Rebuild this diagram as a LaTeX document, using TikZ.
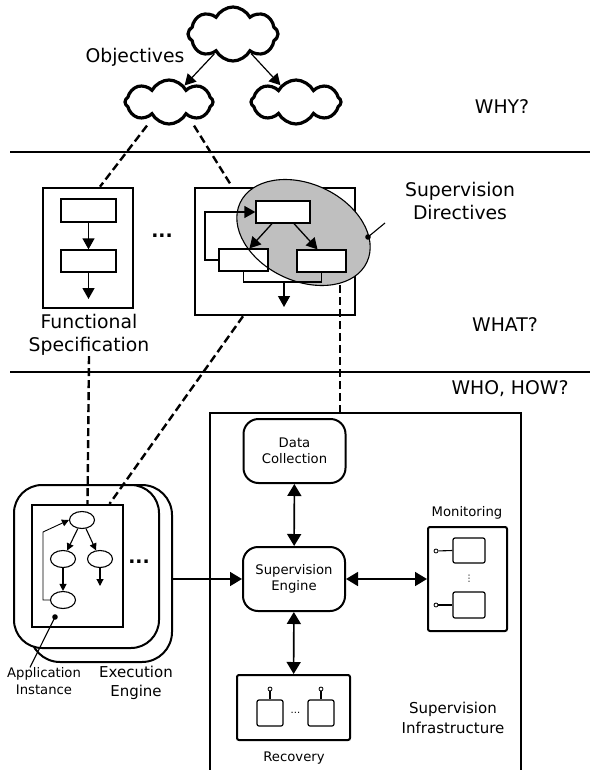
\documentclass[tikz,border=0pt]{standalone}
\usepackage{fontspec}
\setmainfont{DejaVu Sans}
\usetikzlibrary{arrows.meta,shapes.symbols,shapes.geometric}

\tikzset{
	bigtext/.style={font=\fontsize{18.8}{23.5}\selectfont, align=center, inner sep=0pt},
	midtext/.style={font=\fontsize{15}{19.5}\selectfont, align=center, inner sep=0pt},
	smalltext/.style={font=\fontsize{13.2}{16.5}\selectfont, align=center, inner sep=0pt},
	goal/.style={cloud, cloud puffs=8, cloud puff arc=125, aspect=1.7, draw, line width=3.2pt, fill=white, inner sep=0pt},
	frame/.style={draw, line width=2.6pt, inner sep=0pt},
	stepbox/.style={draw, line width=1.3pt, fill=white, inner sep=0pt},
	task/.style={ellipse, draw, line width=1.1pt, inner sep=0pt, minimum width=25pt, minimum height=17pt},
	module/.style={draw, line width=2pt, rounded corners=15pt, inner sep=0pt, minimum width=102pt, minimum height=64pt},
	pin/.style={circle, draw, line width=0.8pt, inner sep=0pt, minimum size=4pt},
	dashline/.style={line width=2.4pt, dash pattern=on 8pt off 4pt},
	bigtip/.style={line width=1.6pt, {Triangle[length=12pt,width=14pt]}-{Triangle[length=12pt,width=14pt]}},
	headtip/.style={line width=1.6pt, -{Triangle[length=12pt,width=14pt]}},
	midtip/.style={line width=1.3pt, -{Triangle[length=11pt,width=12pt]}},
	smalltip/.style={line width=1.1pt, -{Triangle[length=7pt,width=7pt]}}
}

\begin{document}
\begin{tikzpicture}[x=1pt, y=-1pt]
	\useasboundingbox (0,0) rectangle (590,770);
	% layers
	\draw[line width=2.6pt] (10,152) -- (590,152);
	\draw[line width=2.6pt] (10,372) -- (590,372);
	\node[bigtext] (why) at (502,107) {WHY?};
	\node[bigtext] (what) at (505,325) {WHAT?};
	\node[bigtext] (who) at (510,389) {WHO, HOW?};

	% objectives
	\node[goal, minimum width=90pt, minimum height=54pt] (oc) at (233,34) {};
	\node[goal, minimum width=88pt, minimum height=44pt] (lc) at (169,102) {};
	\node[goal, minimum width=90pt, minimum height=44pt] (rc) at (296,102) {};
	\node[bigtext] (objectives) at (135,57) {Objectives};
	\draw[midtip, line width=1.2pt] (oc) -- (lc);
	\draw[midtip, line width=1.2pt] (oc) -- (rc);

	% functional specification
	\node[frame, minimum width=90pt, minimum height=120pt] (spec) at (88,248) {};
	\node[stepbox, minimum width=55pt, minimum height=23pt] (f1) at (88.5,210.5) {};
	\node[stepbox, minimum width=55pt, minimum height=22pt] (f2) at (88.5,261) {};
	\coordinate (fend) at (88.5,299);
	\draw[midtip] (f1) -- (f2);
	\draw[midtip] (f2) -- (fend);
	\node[bigtext] (specname) at (89,335) {Functional\\Specification};
	\node[bigtext] (specdots) at (162,236) {\textbf{...}};

	% supervised plan
	\node[frame, minimum width=160pt, minimum height=127pt] (plan) at (275,251.5) {};
	\node[ellipse, fill=gray!50, minimum width=140pt, minimum height=97pt, rotate=-25] (directives) at (303.5,232.5) {};
	\node[stepbox, minimum width=54pt, minimum height=22pt] (p1) at (283,212) {};
	\node[stepbox, minimum width=49pt, minimum height=22pt] (p2) at (243.5,260) {};
	\node[stepbox, minimum width=49pt, minimum height=22pt] (p3) at (321.5,261) {};
	\node[ellipse, draw, line width=1.1pt, minimum width=140pt, minimum height=97pt, rotate=-25] (dirline) at (303.5,232.5) {};
	\draw[midtip] ([xshift=-11pt]p1.south) -- ([xshift=6pt]p2.north);
	\draw[midtip] ([xshift=11pt]p1.south) -- ([xshift=-4pt]p3.north);
	\draw[midtip] (p2.west) -- (205,260) |- (p1.west);
	\coordinate (merge) at (284,282);
	\coordinate (pend) at (284,307);
	\draw[line width=1.3pt] (p2.south) |- (merge) -| (p3.south);
	\draw[midtip] (merge) -- (pend);
	\coordinate (dirdot) at (368,237);
	\coordinate (dirend) at (385,223);
	\fill (dirdot) circle (2.8pt);
	\draw[line width=1.1pt] (dirdot) -- (dirend);
	\node[bigtext] (dirname) at (460,201) {Supervision\\Directives};

	% execution engine
	\node[draw, fill=white, line width=2pt, rounded corners=30pt, minimum width=142pt, minimum height=177pt] (back) at (101,573.5) {};
	\node[draw, fill=white, line width=2pt, rounded corners=28pt, minimum width=145pt, minimum height=163pt] (engine) at (86.5,566.5) {};
	\node[frame, line width=2.2pt, minimum width=91pt, minimum height=122pt] (app) at (77.5,566) {};
	\node[task] (e1) at (82,520) {};
	\node[task] (e2) at (63,559) {};
	\node[task] (e3) at (100,559) {};
	\node[task] (e4) at (63,600) {};
	\coordinate (e3end) at (100,586);
	\draw[smalltip] (e1) -- (e2);
	\draw[smalltip] (e1) -- (e3);
	\draw[smalltip] (e2) -- (e4);
	\draw[smalltip] (e3) -- (e3end);
	\draw[smalltip, line width=0.9pt] (e4.west) -- (43,600) -- (43,532) -- (e1.west);
	\node[bigtext] (appdots) at (139,562) {\textbf{...}};
	\coordinate (appdot) at (55,617);
	\fill (appdot) circle (2.8pt);
	\node[smalltext] (appname) at (44,681) {Application\\Instance};
	\node[midtext] (enginename) at (136,683) {Execution\\Engine};
	\draw[line width=1.1pt] (appdot) -- ([xshift=-14pt]appname.north);

	% supervision infrastructure
	\draw[line width=2pt] (210,775) -- (210,413) -- (521,413) -- (521,775);
	\coordinate (infratop) at (340,413);
	\node[module] (dc) at (294.5,451) {};
	\node[smalltext] at (dc) {Data\\Collection};
	\node[module] (se) at (294,579) {};
	\node[smalltext] at (se) {Supervision\\Engine};
	\node[draw, line width=2pt, rounded corners=2pt, minimum width=79pt, minimum height=104pt] (mon) at (467.5,579) {};
	\node[smalltext] (monname) at (467,513) {Monitoring};
	\node[draw, line width=1.2pt, rounded corners=2pt, minimum width=32pt, minimum height=25pt] (m1) at (469,550.5) {};
	\node[draw, line width=1.2pt, rounded corners=2pt, minimum width=32pt, minimum height=26pt] (m2) at (469,605) {};
	\node[pin] (m1pin) at (436,551) {};
	\node[pin] (m2pin) at (436,605) {};
	\path (m1pin) edge[line width=1.1pt] (m1.west);
	\path (m2pin) edge[line width=1.1pt] (m2.west);
	\node[font=\fontsize{9}{9}\selectfont] (mondots) at (469,579) {⋮};
	\node[draw, line width=2pt, rounded corners=2pt, minimum width=113pt, minimum height=65pt] (rec) at (293.5,707.5) {};
	\node[smalltext] (recname) at (294,758) {Recovery};
	\node[draw, line width=1.2pt, rounded corners=2pt, minimum width=26pt, minimum height=26pt] (r1) at (270,713) {};
	\node[draw, line width=1.2pt, rounded corners=2pt, minimum width=26pt, minimum height=26pt] (r2) at (321,713) {};
	\node[pin] (r1pin) at (270,689) {};
	\node[pin] (r2pin) at (321,689) {};
	\path (r1pin) edge[line width=1.1pt] (r1.north);
	\path (r2pin) edge[line width=1.1pt] (r2.north);
	\node[font=\fontsize{10}{10}\selectfont] (recdots) at (295.5,713) {...};
	\node[midtext] (infraname) at (453,718) {Supervision\\Infrastructure};
	\draw[bigtip] (dc) -- (se);
	\draw[bigtip] (se) -- (mon);
	\draw[bigtip] (se) -- (rec);
	\draw[headtip] (se.west -| back.east) -- (se.west);

	% refinement links
	\coordinate (dirfoot) at (340,285);
	\draw[dashline] ([xshift=-22pt]lc.south) -- ([xshift=12pt]spec.north);
	\draw[dashline] ([xshift=25pt]lc.south) -- ([xshift=-43pt]plan.north);
	\draw[dashline] (specname.south) -- ([xshift=10pt]app.north);
	\draw[dashline] ([xshift=-32pt]plan.south) -- ([xshift=32pt]app.north);
	\draw[dashline] (dirfoot) -- (infratop);
\end{tikzpicture}
\end{document}
